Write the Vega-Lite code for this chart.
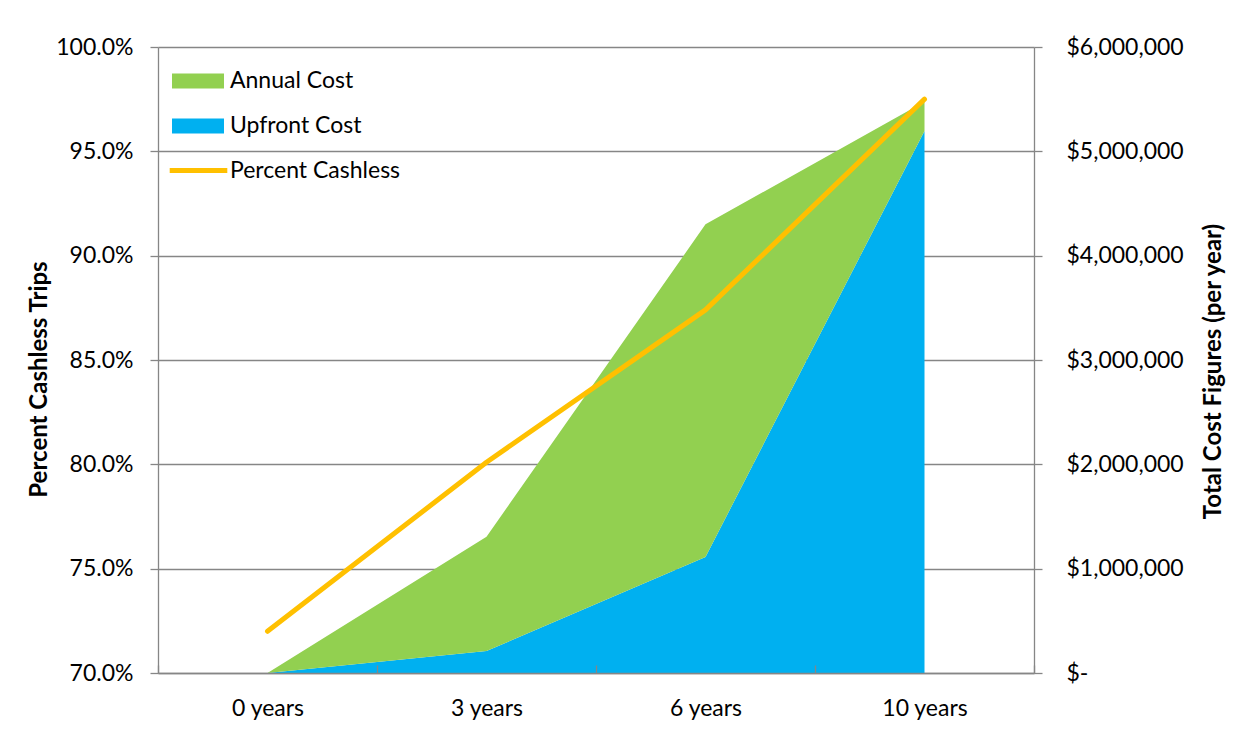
{
  "$schema": "https://vega.github.io/schema/vega-lite/v6.json",
  "width": 876,
  "height": 626,
  "autosize": {"type": "none"},
  "padding": {"left": 158, "top": 47, "right": 207, "bottom": 57},
  "background": "white",
  "config": {
    "view": {"stroke": null},
    "font": "Lato",
    "axis": {
      "labelFont": "Lato",
      "labelFontSize": 23,
      "labelColor": "#000000",
      "domainColor": "#868686",
      "tickColor": "#868686",
      "gridColor": "#868686",
      "domainWidth": 1.3,
      "tickWidth": 1.3,
      "gridWidth": 1.3,
      "titleFont": "Lato",
      "titleFontWeight": "bold",
      "titleFontSize": 24,
      "titleColor": "#000000"
    },
    "legend": {
      "title": null,
      "padding": 0,
      "labelFont": "Lato",
      "labelFontSize": 23,
      "labelColor": "#000000",
      "labelLimit": 0
    }
  },
  "datasets": {
    "costs": [
      {"period": "0 years", "series": "Upfront Cost", "cost": 0},
      {"period": "3 years", "series": "Upfront Cost", "cost": 211000},
      {"period": "6 years", "series": "Upfront Cost", "cost": 1112000},
      {"period": "10 years", "series": "Upfront Cost", "cost": 5195000},
      {"period": "0 years", "series": "Annual Cost", "cost": 0},
      {"period": "3 years", "series": "Annual Cost", "cost": 1095000},
      {"period": "6 years", "series": "Annual Cost", "cost": 3188000},
      {"period": "10 years", "series": "Annual Cost", "cost": 281000}
    ],
    "cashless": [
      {"period": "0 years", "series": "Percent Cashless", "pct": 0.72},
      {"period": "3 years", "series": "Percent Cashless", "pct": 0.801},
      {"period": "6 years", "series": "Percent Cashless", "pct": 0.874},
      {"period": "10 years", "series": "Percent Cashless", "pct": 0.975}
    ]
  },
  "layer": [
    {
      "data": {"name": "costs"},
      "mark": {"type": "area", "opacity": 1},
      "encoding": {
        "x": {
          "field": "period",
          "type": "ordinal",
          "sort": ["0 years", "3 years", "6 years", "10 years"],
          "bandPosition": 0.5,
          "scale": {"type": "band", "paddingInner": 0, "paddingOuter": 0},
          "axis": {
            "title": null,
            "labelAngle": 0,
            "tickBand": "extent",
            "tickSize": -8,
            "labelPadding": 32,
            "labelBaseline": "top",
            "grid": false,
            "zindex": 1
          }
        },
        "y": {
          "field": "cost",
          "type": "quantitative",
          "stack": "zero",
          "scale": {"domain": [0, 6000000], "nice": false},
          "axis": {
            "orient": "right",
            "title": "Total Cost Figures (per year)",
            "titleAngle": -90,
            "titleBaseline": "middle",
            "titleX": 179,
            "titleY": 324,
            "values": [0, 1000000, 2000000, 3000000, 4000000, 5000000, 6000000],
            "labelExpr": "datum.value === 0 ? '$-' : '$' + format(datum.value, ',')",
            "tickSize": 8,
            "labelPadding": 24,
            "grid": false
          }
        },
        "color": {
          "field": "series",
          "type": "nominal",
          "scale": {
            "domain": ["Annual Cost", "Upfront Cost"],
            "range": ["#92D050", "#00B0F0"]
          },
          "legend": {
            "orient": "none",
            "legendX": 25,
            "legendY": 19,
            "symbolType": "M-1.733,-0.5 L1.733,-0.5 L1.733,0.5 L-1.733,0.5 Z",
            "symbolSize": 900,
            "symbolStrokeWidth": 0,
            "labelOffset": 17,
            "rowPadding": 18
          }
        },
        "order": {"field": "series", "sort": "descending"}
      }
    },
    {
      "data": {"name": "cashless"},
      "mark": {"type": "line", "strokeWidth": 5, "strokeCap": "round", "strokeJoin": "round"},
      "encoding": {
        "x": {
          "field": "period",
          "type": "ordinal",
          "sort": ["0 years", "3 years", "6 years", "10 years"],
          "bandPosition": 0.5
        },
        "y": {
          "field": "pct",
          "type": "quantitative",
          "scale": {"domain": [0.7, 1.0], "nice": false, "zero": false},
          "axis": {
            "orient": "left",
            "title": "Percent Cashless Trips",
            "titleAngle": -90,
            "titleBaseline": "middle",
            "titleX": -119,
            "titleY": 332,
            "format": ".1%",
            "values": [0.7, 0.75, 0.8, 0.85, 0.9, 0.95, 1.0],
            "tickSize": 8,
            "labelPadding": 17,
            "grid": true
          }
        },
        "color": {
          "field": "series",
          "type": "nominal",
          "scale": {"domain": ["Percent Cashless"], "range": ["#FFC000"]},
          "legend": {
            "orient": "none",
            "legendX": 9,
            "legendY": 92,
            "symbolType": "stroke",
            "symbolSize": 3318,
            "symbolStrokeWidth": 5,
            "labelOffset": 0
          }
        }
      }
    }
  ],
  "resolve": {"scale": {"y": "independent", "color": "independent"}}
}
